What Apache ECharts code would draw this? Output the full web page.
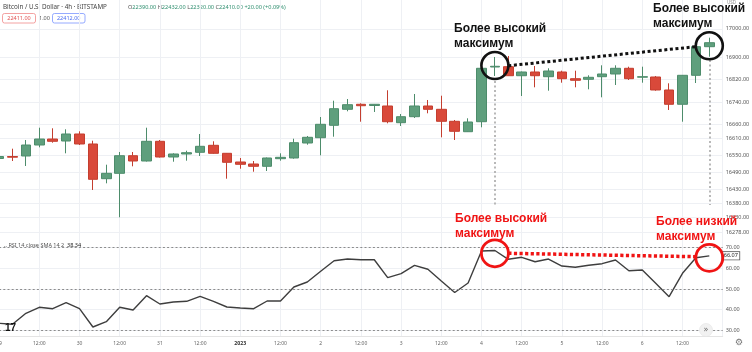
<!DOCTYPE html>
<html><head><meta charset="utf-8">
<script src="https://cdn.jsdelivr.net/npm/echarts@6/dist/echarts.min.js"></script>
<style>html,body{margin:0;padding:0;background:#fff}#c{width:752px;height:352px}</style>
</head><body><div id="c"></div><script>
const categories = [
 '29 Dec 00:00','29 Dec 04:00','29 Dec 08:00','29 Dec 12:00','29 Dec 16:00','29 Dec 20:00',
 '30 Dec 00:00','30 Dec 04:00','30 Dec 08:00','30 Dec 12:00','30 Dec 16:00','30 Dec 20:00',
 '31 Dec 00:00','31 Dec 04:00','31 Dec 08:00','31 Dec 12:00','31 Dec 16:00','31 Dec 20:00',
 '1 Jan 00:00','1 Jan 04:00','1 Jan 08:00','1 Jan 12:00','1 Jan 16:00','1 Jan 20:00',
 '2 Jan 00:00','2 Jan 04:00','2 Jan 08:00','2 Jan 12:00','2 Jan 16:00','2 Jan 20:00',
 '3 Jan 00:00','3 Jan 04:00','3 Jan 08:00','3 Jan 12:00','3 Jan 16:00','3 Jan 20:00',
 '4 Jan 00:00','4 Jan 04:00','4 Jan 08:00','4 Jan 12:00','4 Jan 16:00','4 Jan 20:00',
 '5 Jan 00:00','5 Jan 04:00','5 Jan 08:00','5 Jan 12:00','5 Jan 16:00','5 Jan 20:00',
 '6 Jan 00:00','6 Jan 04:00','6 Jan 08:00','6 Jan 12:00','6 Jan 16:00','6 Jan 20:00',
 '7 Jan 00:00'
];
const tickLabels = ['29','12:00','30','12:00','31','12:00','2023','12:00','2','12:00','3','12:00','4','12:00','5','12:00','6','12:00',''];
const priceTicks = [17000,16900,16820,16740,16660,16610,16550,16490,16430,16380,16330,16278];
const rsiTicks = [30,40,50,60,70];
const rsiLevels = [70,50,30];
// [open, close, low, high]
const candles = [
 [16539.6,16546.6,16530.7,16555.5],[16546.6,16544.2,16530.7,16574.4],[16548.5,16587.5,16513.0,16605.3],
 [16587.5,16608.8,16579.3,16648.9],[16608.8,16600.6,16595.7,16646.8],[16601.7,16626.6,16558.0,16643.2],
 [16626.6,16591.1,16587.5,16636.1],[16591.1,16465.7,16427.8,16602.8],[16467.9,16487.0,16451.5,16517.6],
 [16487.0,16549.5,16330.9,16562.7],[16549.5,16530.7,16511.9,16562.7],[16530.7,16600.6,16528.9,16648.9],
 [16600.6,16544.9,16543.1,16605.3],[16544.9,16555.6,16528.2,16558.0],[16555.6,16560.2,16531.8,16567.3],
 [16561.6,16582.9,16548.5,16626.6],[16586.4,16558.0,16556.3,16600.6],[16558.0,16526.1,16467.9,16559.1],
 [16527.2,16519.0,16503.4,16541.4],[16520.1,16511.9,16492.7,16530.7],[16511.9,16541.4,16495.2,16543.1],
 [16538.9,16543.8,16531.8,16558.0],[16541.4,16595.7,16538.9,16609.9],[16594.6,16614.8,16588.6,16619.5],
 [16613.4,16661.0,16550.9,16686.9],[16657.4,16716.4,16617.0,16744.8],[16714.2,16730.6,16707.1,16750.8],
 [16732.0,16727.0,16670.2,16735.5],[16727.7,16732.0,16704.7,16733.1],[16726.0,16670.2,16664.5,16781.7],
 [16666.7,16688.0,16655.0,16697.6],[16688.0,16726.0,16683.4,16768.6],[16726.0,16714.2,16700.0,16747.3],
 [16714.2,16671.6,16614.8,16762.5],[16671.6,16636.1,16605.3,16676.3],[16634.7,16669.2,16633.7,16682.3],
 [16670.2,16859.8,16650.3,16860.9],[16864.4,16866.9,16832.5,16899.9],[16865.5,16833.5,16832.5,16903.5],
 [16833.5,16846.7,16761.5,16848.4],[16846.7,16833.5,16792.3,16867.9],[16830.0,16850.2,16780.3,16859.8],
 [16846.7,16822.9,16808.7,16851.3],[16822.9,16817.2,16792.3,16851.3],[16820.7,16827.8,16785.2,16834.9],
 [16830.0,16839.6,16756.8,16870.4],[16839.6,16859.8,16800.5,16870.4],[16859.8,16822.9,16818.3,16865.5],
 [16828.2,16830.0,16808.7,16865.5],[16828.9,16782.8,16780.3,16832.5],[16782.8,16732.0,16711.8,16806.5],
 [16732.0,16834.9,16670.2,16836.0],[16834.9,16936.5,16807.6,16937.2],[16936.5,16950.7,16901.0,16968.4]
];
const rsi = [33.41,32.92,38.25,41.15,40.47,43.38,40.47,31.62,34.18,41.15,39.85,46.77,42.75,43.72,44.06,46.48,
 44.06,41.30,40.81,40.47,44.20,44.20,50.98,53.40,58.58,63.71,64.53,64.19,64.19,55.48,57.42,61.48,59.55,53.88,
 48.32,52.91,68.40,68.64,64.39,65.35,63.22,64.53,61.14,60.51,61.48,62.26,64.05,58.87,59.21,52.77,46.28,57.61,
 65.16,66.07];
// annotation anchor values
const highA = {cat:'4 Jan 04:00', price:16869.7, rsi:67.3};
const highB = {cat:'6 Jan 20:00', price:16939.7, rsi:65.1};
const trendPrice = [['4 Jan 08:00',16869.0],['6 Jan 16:00',16936.5]];
const trendRsi = [['4 Jan 08:00',67.29],['6 Jan 16:00',65.64]];
const guideA = [16814.7,16374.5];
const guideB = [16889.2,16374.5];

const chart = echarts.init(document.getElementById('c'), null, {renderer:'canvas', width:752, height:352});
const AX = '"Noto Sans", Roboto, sans-serif';
const ANN = 'bold 12px "Liberation Sans", Arial, sans-serif';
const grid = {left:-0.9, width:723.6, outerBoundsMode:'none', containLabel:false};
const vSplit = {show:true, interval:2, lineStyle:{color:'#eef0f4', width:1}};
chart.setOption({
 animation:false,
 backgroundColor:'#ffffff',
 grid:[Object.assign({top:0, height:240}, grid), Object.assign({top:240, height:96}, grid)],
 xAxis:[
  {type:'category', gridIndex:0, data:categories, boundaryGap:false, axisLine:{show:false}, axisTick:{show:false},
   axisLabel:{show:false}, splitLine:vSplit},
  {type:'category', gridIndex:1, data:categories, boundaryGap:false, axisLine:{show:true, lineStyle:{color:'#e4e4e4'}},
   axisTick:{show:false}, splitLine:vSplit,
   axisLabel:{show:true, interval:2, fontSize:5, color:'#666', margin:5, fontFamily:AX,
     formatter:(v,i)=>{const t = tickLabels[i/3] || ''; return t==='2023' ? '{b|2023}' : t;},
     rich:{b:{fontSize:5.2, fontWeight:'bold', color:'#333', fontFamily:AX}}}}
 ],
 yAxis:[
  {type:'value', gridIndex:0, position:'right', min:16250.27, max:17102.24, axisLine:{show:false},
   axisTick:{show:false, customValues:priceTicks},
   axisLabel:{customValues:priceTicks, formatter:v=>v.toFixed(2), fontSize:5.5, color:'#555', margin:3, fontFamily:AX},
   splitLine:{show:true, lineStyle:{color:'#eef0f4', width:1}}},
  {type:'value', gridIndex:1, position:'right', min:27.26, max:73.73, axisLine:{show:false},
   axisTick:{show:false, customValues:rsiTicks},
   axisLabel:{customValues:rsiTicks, formatter:v=>v.toFixed(2), fontSize:5.5, color:'#555', margin:3, fontFamily:AX},
   splitLine:{show:true, lineStyle:{color:'#eef0f4', width:1}}}
 ],
 series:[
  {type:'candlestick', xAxisIndex:0, yAxisIndex:0, data:candles, barWidth:10, clip:false,
   itemStyle:{color:'#5f9f7d', color0:'#d9493a', borderColor:'#4d8c6b', borderColor0:'#c43e2f', borderWidth:1},
   markLine:{silent:true, symbol:['none','none'], label:{show:false}, z:5,
     data:[
      [{coord:[highA.cat, guideA[0]], lineStyle:{color:'#b8b8b8', width:2, type:[2,2.5]}}, {coord:[highA.cat, guideA[1]]}],
      [{coord:[highB.cat, guideB[0]], lineStyle:{color:'#b8b8b8', width:2, type:[2,2.5]}}, {coord:[highB.cat, guideB[1]]}],
      [{coord:trendPrice[0], lineStyle:{color:'#111', width:3, type:[3,2.6], cap:'butt'}}, {coord:trendPrice[1]}]
     ]},
   markPoint:{silent:true, label:{show:false}, symbol:'circle', symbolSize:27,
     itemStyle:{color:'rgba(0,0,0,0)', borderColor:'#111', borderWidth:2.6},
     data:[{coord:[highA.cat, highA.price]}, {coord:[highB.cat, highB.price]}]}
  },
  {type:'line', xAxisIndex:1, yAxisIndex:1, data:rsi, symbol:'none', z:3,
   lineStyle:{color:'#3e3e3e', width:1.4},
   endLabel:{show:true, formatter:'66.07', fontSize:5.5, color:'#222', fontFamily:AX, backgroundColor:'#fff',
     borderColor:'#555', borderWidth:0.8, padding:[1,1.5,0.5,1.5], distance:13},
   markLine:{silent:true, symbol:['none','none'], label:{show:false},
     data:rsiLevels.map(v=>({yAxis:v, lineStyle:{color:'#8c8c8c', width:1, type:[2,2.2]}})).concat([
      [{coord:trendRsi[0], lineStyle:{color:'#f01414', width:3.5, type:[3.2,2.4], cap:'butt'}}, {coord:trendRsi[1]}]
     ])},
   markPoint:{silent:true, label:{show:false}, symbol:'circle', symbolSize:27,
     itemStyle:{color:'rgba(0,0,0,0)', borderColor:'#f01414', borderWidth:2.8},
     data:[{coord:[highA.cat, highA.rsi]}, {coord:[highB.cat, highB.rsi]}]}
  }
 ],
 graphic:[
  {type:'text', x:3, y:7, style:{text:'Bitcoin / U.S. Dollar · 4h · BITSTAMP', font:'6.3px '+AX, fill:'#444', verticalAlign:'middle', textVerticalAlign:'middle'}},
  {type:'text', x:128, y:7, style:{text:'{g|O}{v|22390.00} {g|H}{v|22432.00} {g|L}{v|22320.00} {g|C}{v|22410.00} {v|+20.00 (+0.09%)}',
    font:'5.6px '+AX, verticalAlign:'middle', textVerticalAlign:'middle',
    rich:{g:{fill:'#555', fontSize:5.6, fontFamily:AX}, v:{fill:'#2f8f6f', fontSize:5.6, fontFamily:AX}}}},
  {type:'rect', shape:{x:2.5, y:13.5, width:33, height:9.5, r:2}, style:{fill:'#fff', stroke:'#f08a8a', lineWidth:0.8}},
  {type:'text', x:19, y:18.5, style:{text:'22411.00', font:'5.5px '+AX, fill:'#e05252', align:'center', textAlign:'center', verticalAlign:'middle', textVerticalAlign:'middle'}},
  {type:'text', x:39, y:18.5, style:{text:'1.00', font:'5.5px '+AX, fill:'#555', verticalAlign:'middle', textVerticalAlign:'middle'}},
  {type:'rect', shape:{x:52.5, y:13.5, width:32.5, height:9.5, r:2}, style:{fill:'#fff', stroke:'#7b96ff', lineWidth:0.8}},
  {type:'text', x:68.7, y:18.5, style:{text:'22412.00', font:'5.5px '+AX, fill:'#4a6cf0', align:'center', textAlign:'center', verticalAlign:'middle', textVerticalAlign:'middle'}},
  {type:'text', x:727, y:2.5, style:{text:'USD', font:'4.5px '+AX, fill:'#888', verticalAlign:'middle', textVerticalAlign:'middle'}},
  {type:'text', x:4, y:245, z:10, style:{text:'., RSI 14 close SMA 14 2  {d|38.34}', font:'5.5px '+AX, fill:'#555', verticalAlign:'middle', textVerticalAlign:'middle',
    rich:{d:{fill:'#222', fontSize:5.5, fontFamily:AX}}}},
  {type:'text', x:5, y:328, z:10, style:{text:'17', font:'bold 10px "Liberation Sans", Arial', fill:'#111', verticalAlign:'middle', textVerticalAlign:'middle'}},
  {type:'circle', shape:{cx:706, cy:330, r:6.5}, z:10, style:{fill:'#f1f1f1', stroke:'#e2e2e2', lineWidth:0.6}},
  {type:'text', x:706, y:330, z:11, style:{text:'»', font:'8px "DejaVu Sans"', fill:'#666', align:'center', textAlign:'center', verticalAlign:'middle', textVerticalAlign:'middle'}},
  {type:'text', x:739, y:343, style:{text:'⚙', font:'9px "DejaVu Sans"', fill:'#777', align:'center', textAlign:'center', verticalAlign:'middle', textVerticalAlign:'middle'}},
  {type:'text', x:454, y:20.8, z:20, style:{text:'Более высокий\nмаксимум', font:ANN, fill:'#111', lineHeight:15.5}},
  {type:'text', x:653, y:0.6, z:20, style:{text:'Более высокий\nмаксимум', font:ANN, fill:'#111', lineHeight:15.5}},
  {type:'text', x:455, y:210.6, z:20, style:{text:'Более высокий\nмаксимум', font:ANN, fill:'#f01414', lineHeight:15.5}},
  {type:'text', x:656, y:213.6, z:20, style:{text:'Более низкий\nмаксимум', font:ANN, fill:'#f01414', lineHeight:15.5}}
 ]
});
</script></body></html>
